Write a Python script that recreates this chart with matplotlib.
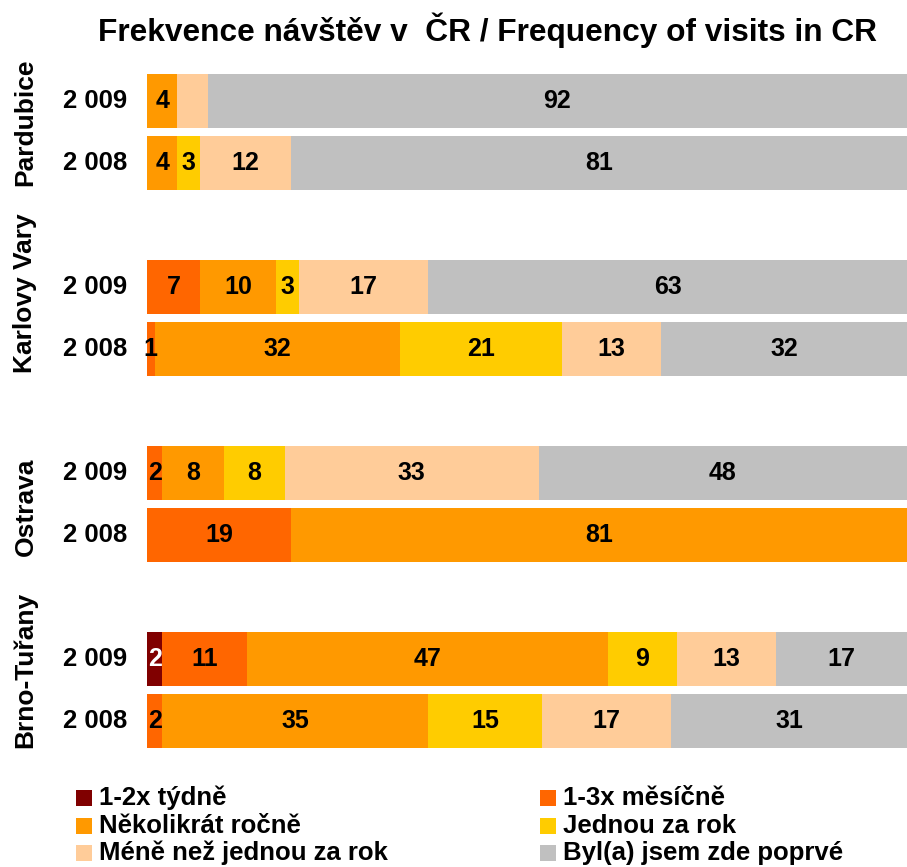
import matplotlib
matplotlib.use("Agg")
import matplotlib.pyplot as plt
from matplotlib.patches import Rectangle
import numpy as np

plt.rcParams['font.family'] = ['Liberation Sans', 'DejaVu Sans']
plt.rcParams['font.weight'] = 'bold'

title = "Frekvence návštěv v  ČR / Frequency of visits in CR"
groups = ["Pardubice", "Karlovy Vary", "Ostrava", "Brno-Tuřany"]
years = ["2 009", "2 008"]

series_names = ["1-2x týdně", "1-3x měsíčně", "Několikrát ročně",
                "Jednou za rok", "Méně než jednou za rok", "Byl(a) jsem zde poprvé"]
colors = ["#800000", "#FF6600", "#FF9900", "#FFCC00", "#FFCC99", "#C0C0C0"]

# rows: Pardubice 2009, 2008, Karlovy Vary 2009, 2008, Ostrava 2009, 2008, Brno 2009, 2008
weekly  = [0, 0, 0, 0, 0, 0, 2, 0]
monthly = [0, 0, 7, 1, 2, 19, 11, 2]
several = [4, 4, 10, 32, 8, 81, 47, 35]
once    = [0, 3, 3, 21, 8, 0, 9, 15]
less    = [4, 12, 17, 13, 33, 0, 13, 17]
first   = [92, 81, 63, 32, 48, 0, 17, 31]
hidden_labels = {(0, 4)}  # (row, series) labels not shown in source

series = [weekly, monthly, several, once, less, first]
data = np.array(series, dtype=float)  # shape (6, 8)
totals = data.sum(axis=0)
shares = data / totals * 100

# slot positions: two bars per group, one empty slot between groups
positions = []
for g in range(len(groups)):
    positions += [g * 3, g * 3 + 1]
positions = np.array(positions, dtype=float)

W, H = 907, 867
fig = plt.figure(figsize=(W / 100, H / 100), dpi=100)
ax = fig.add_axes([147 / W, 1 - 752 / H, 760 / W, 682 / H])

left = np.zeros(len(positions))
for s in range(len(series)):
    ax.barh(positions, shares[s], left=left, height=0.855, color=colors[s],
            edgecolor='none')
    for r in range(len(positions)):
        v = data[s, r]
        if v > 0 and (r, s) not in hidden_labels:
            ax.text(left[r] + shares[s, r] / 2, positions[r], f"{int(v)}",
                    ha='center', va='center', fontsize=18, fontweight='bold',
                    color='white' if s == 0 else 'black')
    left += shares[s]

ax.set_xlim(0, 100)
ax.set_ylim(positions.max() + 0.5, -0.5)
ax.axis('off')

# year labels
for r, p in enumerate(positions):
    ax.text(-2.6, p, years[r % 2], ha='right', va='center', fontsize=18.5,
            fontweight='bold', transform=ax.transData, clip_on=False)

# group labels (rotated)
group_offsets = [-0.16, -0.4, 0.05, -0.32]
for g, name in enumerate(groups):
    yc = (positions[2 * g] + positions[2 * g + 1]) / 2 + group_offsets[g]
    ax.text(-16.0, yc, name, ha='center', va='center', rotation=90,
            fontsize=19, fontweight='bold', clip_on=False)

fig.text(487 / W, 1 - 30 / H, title, ha='center', va='center',
         fontsize=22.8, fontweight='bold')

# legend (manual, 2 columns x 3 rows)
col_x = [76, 540]
row_y = [798, 826, 853]
for i, (name, c) in enumerate(zip(series_names, colors)):
    col, row = i % 2, i // 2
    x0, y0 = col_x[col], row_y[row]
    fig.patches.append(Rectangle((x0 / W, 1 - (y0 + 8) / H), 16 / W, 16 / H,
                                 transform=fig.transFigure, facecolor=c,
                                 edgecolor='none'))
    fig.text((x0 + 23) / W, 1 - y0 / H, name, ha='left', va='center',
             fontsize=18.5, fontweight='bold')

fig.savefig("out.png", dpi=100)
